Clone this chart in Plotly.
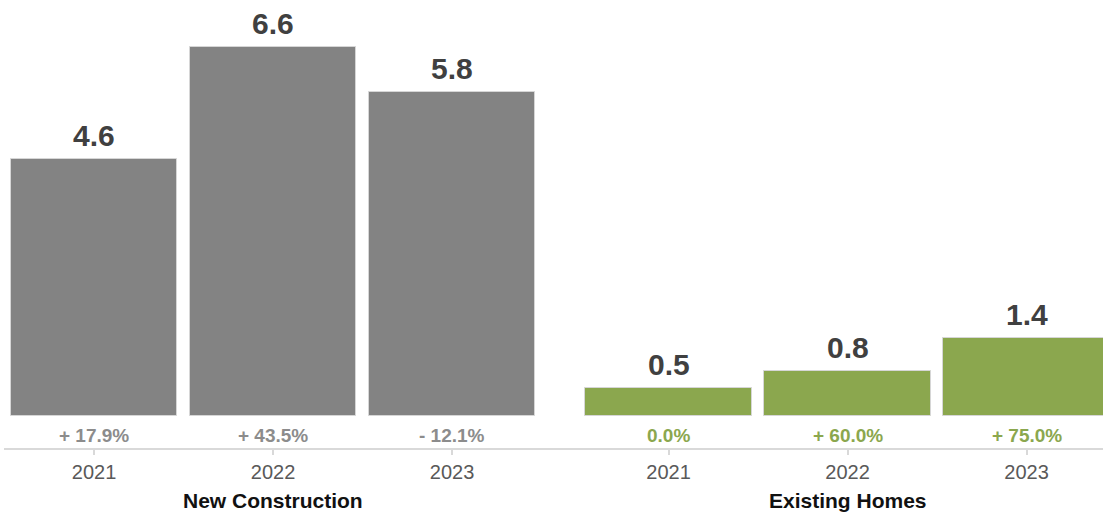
import plotly.graph_objects as go

# Data
groups = ["New Construction", "Existing Homes"]
years = ["2021", "2022", "2023"]
new_construction = [4.6, 6.6, 5.8]
existing_homes = [0.5, 0.8, 1.4]
new_change = [17.9, 43.5, -12.1]
existing_change = [0.0, 60.0, 75.0]

GRAY = "#838383"
GREEN = "#8ba74e"
FONT = "Liberation Sans, Arial, sans-serif"
group_colors = [GRAY, GREEN]
change_colors = ["#8c8c8c", "#8ba74e"]
group_offsets = [0.0, 3.21]
bar_width = 0.93


def fmt_change(v):
    if v > 0:
        return f"+ {v:.1f}%"
    if v < 0:
        return f"- {abs(v):.1f}%"
    return f"{v:.1f}%"


fig = go.Figure()
annotations = []
tickvals, ticktext = [], []

for g, (name, vals, changes) in enumerate(zip(groups, [new_construction, existing_homes],
                                              [new_change, existing_change])):
    xs = [group_offsets[g] + i for i in range(len(years))]
    fig.add_trace(go.Bar(
        x=xs, y=vals, width=bar_width,
        marker=dict(color=group_colors[g], line=dict(color="#d6d6d6", width=1)),
        hoverinfo="skip", showlegend=False,
    ))
    for x, v, c in zip(xs, vals, changes):
        # value above the bar
        annotations.append(dict(
            x=x, y=v, xref="x", yref="y", text=f"<b>{v:.1f}</b>", showarrow=False,
            yanchor="bottom", yshift=5,
            font=dict(family=FONT, size=30, color="#404040"),
        ))
        # year-over-year change below the bar
        annotations.append(dict(
            x=x, y=-0.34, xref="x", yref="y", text=f"<b>{fmt_change(c)}</b>", showarrow=False,
            yanchor="middle",
            font=dict(family=FONT, size=19, color=change_colors[g]),
        ))
    tickvals += xs
    ticktext += years
    annotations.append(dict(
        x=xs[1], y=0, xref="x", yref="paper", text=f"<b>{name}</b>", showarrow=False,
        yanchor="middle", yshift=-52,
        font=dict(family=FONT, size=21, color="#111111"),
    ))

fig.update_layout(
    width=1103, height=514,
    margin=dict(l=4, r=0, t=0, b=66),
    plot_bgcolor="white", paper_bgcolor="white",
    bargap=0,
    annotations=annotations,
    xaxis=dict(
        range=[-0.503, 5.637], tickvals=tickvals, ticktext=ticktext,
        showgrid=False, zeroline=False,
        showline=True, linecolor="#d9d9d9", linewidth=2,
        ticks="outside", ticklen=5, tickcolor="#d9d9d9", tickwidth=2,
        tickfont=dict(family=FONT, size=20, color="#595959"),
    ),
    yaxis=dict(range=[-0.572, 7.44], visible=False, showgrid=False, zeroline=False),
)

fig.write_html("out.html")
